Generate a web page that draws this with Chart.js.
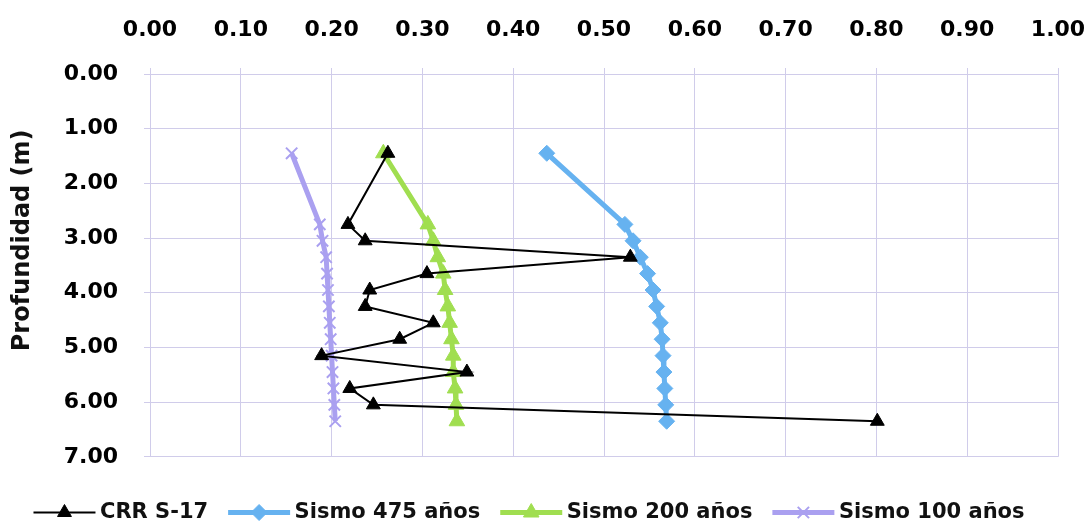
<!DOCTYPE html>
<html>
<head>
<meta charset="utf-8">
<script src="https://cdn.jsdelivr.net/npm/chart.js@4.4.0/dist/chart.umd.min.js"></script>
<style>
  html, body { margin: 0; padding: 0; background: #fff; }
  #wrap { width: 1089px; height: 524px; position: relative; }
</style>
</head>
<body>
<div id="wrap"><canvas id="perfil"></canvas></div>
<script>
// profundidad de cada punto (m)
const profundidad = [1.45, 2.75, 3.05, 3.35, 3.65, 3.95, 4.25, 4.55, 4.85, 5.15, 5.45, 5.75, 6.05, 6.35];

// CRR medido y CSR de cada sismo
const crrS17   = [0.262, 0.218, 0.237, 0.529, 0.305, 0.242, 0.237, 0.312, 0.275, 0.189, 0.349, 0.220, 0.246, 0.801];
const sismo475 = [0.437, 0.523, 0.532, 0.540, 0.548, 0.554, 0.558, 0.562, 0.564, 0.565, 0.566, 0.567, 0.568, 0.569];
const sismo200 = [0.257, 0.306, 0.312, 0.317, 0.323, 0.325, 0.328, 0.330, 0.332, 0.334, 0.334, 0.336, 0.337, 0.338];
const sismo100 = [0.156, 0.187, 0.190, 0.194, 0.195, 0.196, 0.197, 0.198, 0.199, 0.200, 0.201, 0.202, 0.203, 0.204];

const nombres = ['CRR S-17', 'Sismo 475 años', 'Sismo 200 años', 'Sismo 100 años'];

const toPoints = vals => vals.map((v, i) => ({ x: v, y: profundidad[i] }));

const gridColor = 'rgb(208, 204, 234)';
const tickFont = { family: 'DejaVu Sans', size: 22, weight: 'bold' };
const sampleLen = 62;

// muestra de línea + marcador para cada entrada de la leyenda
const legendSamples = {
  id: 'legendSamples',
  afterDraw(chart) {
    const legend = chart.legend;
    if (!legend || !legend.legendHitBoxes) return;
    const ctx = chart.ctx;
    legend.legendHitBoxes.forEach((box, i) => {
      const ds = chart.data.datasets[i];
      const cy = box.top + box.height / 2;
      ctx.save();
      ctx.strokeStyle = ds.borderColor;
      ctx.lineWidth = ds.borderWidth;
      ctx.beginPath();
      ctx.moveTo(box.left, cy);
      ctx.lineTo(box.left + sampleLen, cy);
      ctx.stroke();
      ctx.fillStyle = ds.pointBackgroundColor;
      ctx.strokeStyle = ds.pointBorderColor;
      ctx.lineWidth = ds.pointBorderWidth;
      Chart.helpers.drawPoint(ctx, {
        pointStyle: ds.pointStyle,
        radius: ds.pointRadius,
        rotation: 0,
        borderWidth: ds.pointBorderWidth
      }, box.left + sampleLen / 2, cy);
      ctx.restore();
    });
  }
};

new Chart(document.getElementById('perfil'), {
  type: 'scatter',
  data: {
    datasets: [
      {
        label: nombres[0],
        data: toPoints(crrS17),
        showLine: true,
        borderColor: '#000',
        borderWidth: 2,
        pointStyle: 'triangle',
        pointRadius: 8,
        pointBackgroundColor: '#000',
        pointBorderColor: '#000',
        pointBorderWidth: 1,
        order: 0
      },
      {
        label: nombres[1],
        data: toPoints(sismo475),
        showLine: true,
        borderColor: 'rgb(102, 178, 240)',
        borderWidth: 5,
        pointStyle: 'rectRot',
        pointRadius: 8,
        pointBackgroundColor: 'rgb(102, 178, 240)',
        pointBorderColor: 'rgb(102, 178, 240)',
        pointBorderWidth: 1,
        order: 3
      },
      {
        label: nombres[2],
        data: toPoints(sismo200),
        showLine: true,
        borderColor: 'rgb(160, 222, 80)',
        borderWidth: 5,
        pointStyle: 'triangle',
        pointRadius: 9,
        pointBackgroundColor: 'rgb(160, 222, 80)',
        pointBorderColor: 'rgb(160, 222, 80)',
        pointBorderWidth: 1,
        order: 2
      },
      {
        label: nombres[3],
        data: toPoints(sismo100),
        showLine: true,
        borderColor: 'rgb(170, 160, 240)',
        borderWidth: 5,
        pointStyle: 'crossRot',
        pointRadius: 8,
        pointBackgroundColor: 'rgb(170, 160, 240)',
        pointBorderColor: 'rgb(170, 160, 240)',
        pointBorderWidth: 2,
        order: 1
      }
    ]
  },
  options: {
    responsive: true,
    maintainAspectRatio: false,
    animation: false,
    layout: { padding: { left: 0, right: 31, top: 0, bottom: -9 } },
    scales: {
      x: {
        type: 'linear',
        position: 'top',
        min: 0,
        max: 1,
        afterFit(scale) {
          scale.height = 74;
          scale.paddingLeft = 0;
          scale.paddingRight = 0;
        },
        ticks: {
          stepSize: 0.1,
          padding: 25,
          color: '#000',
          font: tickFont,
          callback: v => v.toFixed(2)
        },
        grid: { color: gridColor, tickLength: 6, tickColor: gridColor },
        border: { color: gridColor }
      },
      y: {
        type: 'linear',
        reverse: true,
        min: 0,
        max: 7,
        afterFit(scale) { scale.width = 150; },
        ticks: {
          stepSize: 1,
          padding: 26,
          color: '#000',
          font: tickFont,
          callback: v => v.toFixed(2)
        },
        grid: { color: gridColor, tickLength: 6, tickColor: gridColor },
        border: { color: gridColor },
        title: {
          display: true,
          text: '      Profundidad (m)',
          color: '#111',
          font: { family: 'DejaVu Sans', size: 24, weight: 'bold' },
          padding: { top: 8, bottom: 0 }
        }
      }
    },
    plugins: {
      tooltip: { enabled: false },
      legend: {
        position: 'bottom',
        align: 'center',
        title: { display: true, text: ' ', font: { size: 1 }, padding: { top: 24, bottom: 0 } },
        labels: {
          boxWidth: 56,
          boxHeight: 2,
          padding: 20,
          color: '#111',
          font: { family: 'DejaVu Sans', size: 21, weight: 'bold' },
          generateLabels(chart) {
            return chart.data.datasets.map((ds, i) => ({
              text: ds.label,
              fontColor: '#111',
              fillStyle: 'rgba(0,0,0,0)',
              strokeStyle: 'rgba(0,0,0,0)',
              lineWidth: 0,
              datasetIndex: i,
              hidden: false
            }));
          }
        }
      }
    }
  },
  plugins: [legendSamples]
});
</script>
</body>
</html>
